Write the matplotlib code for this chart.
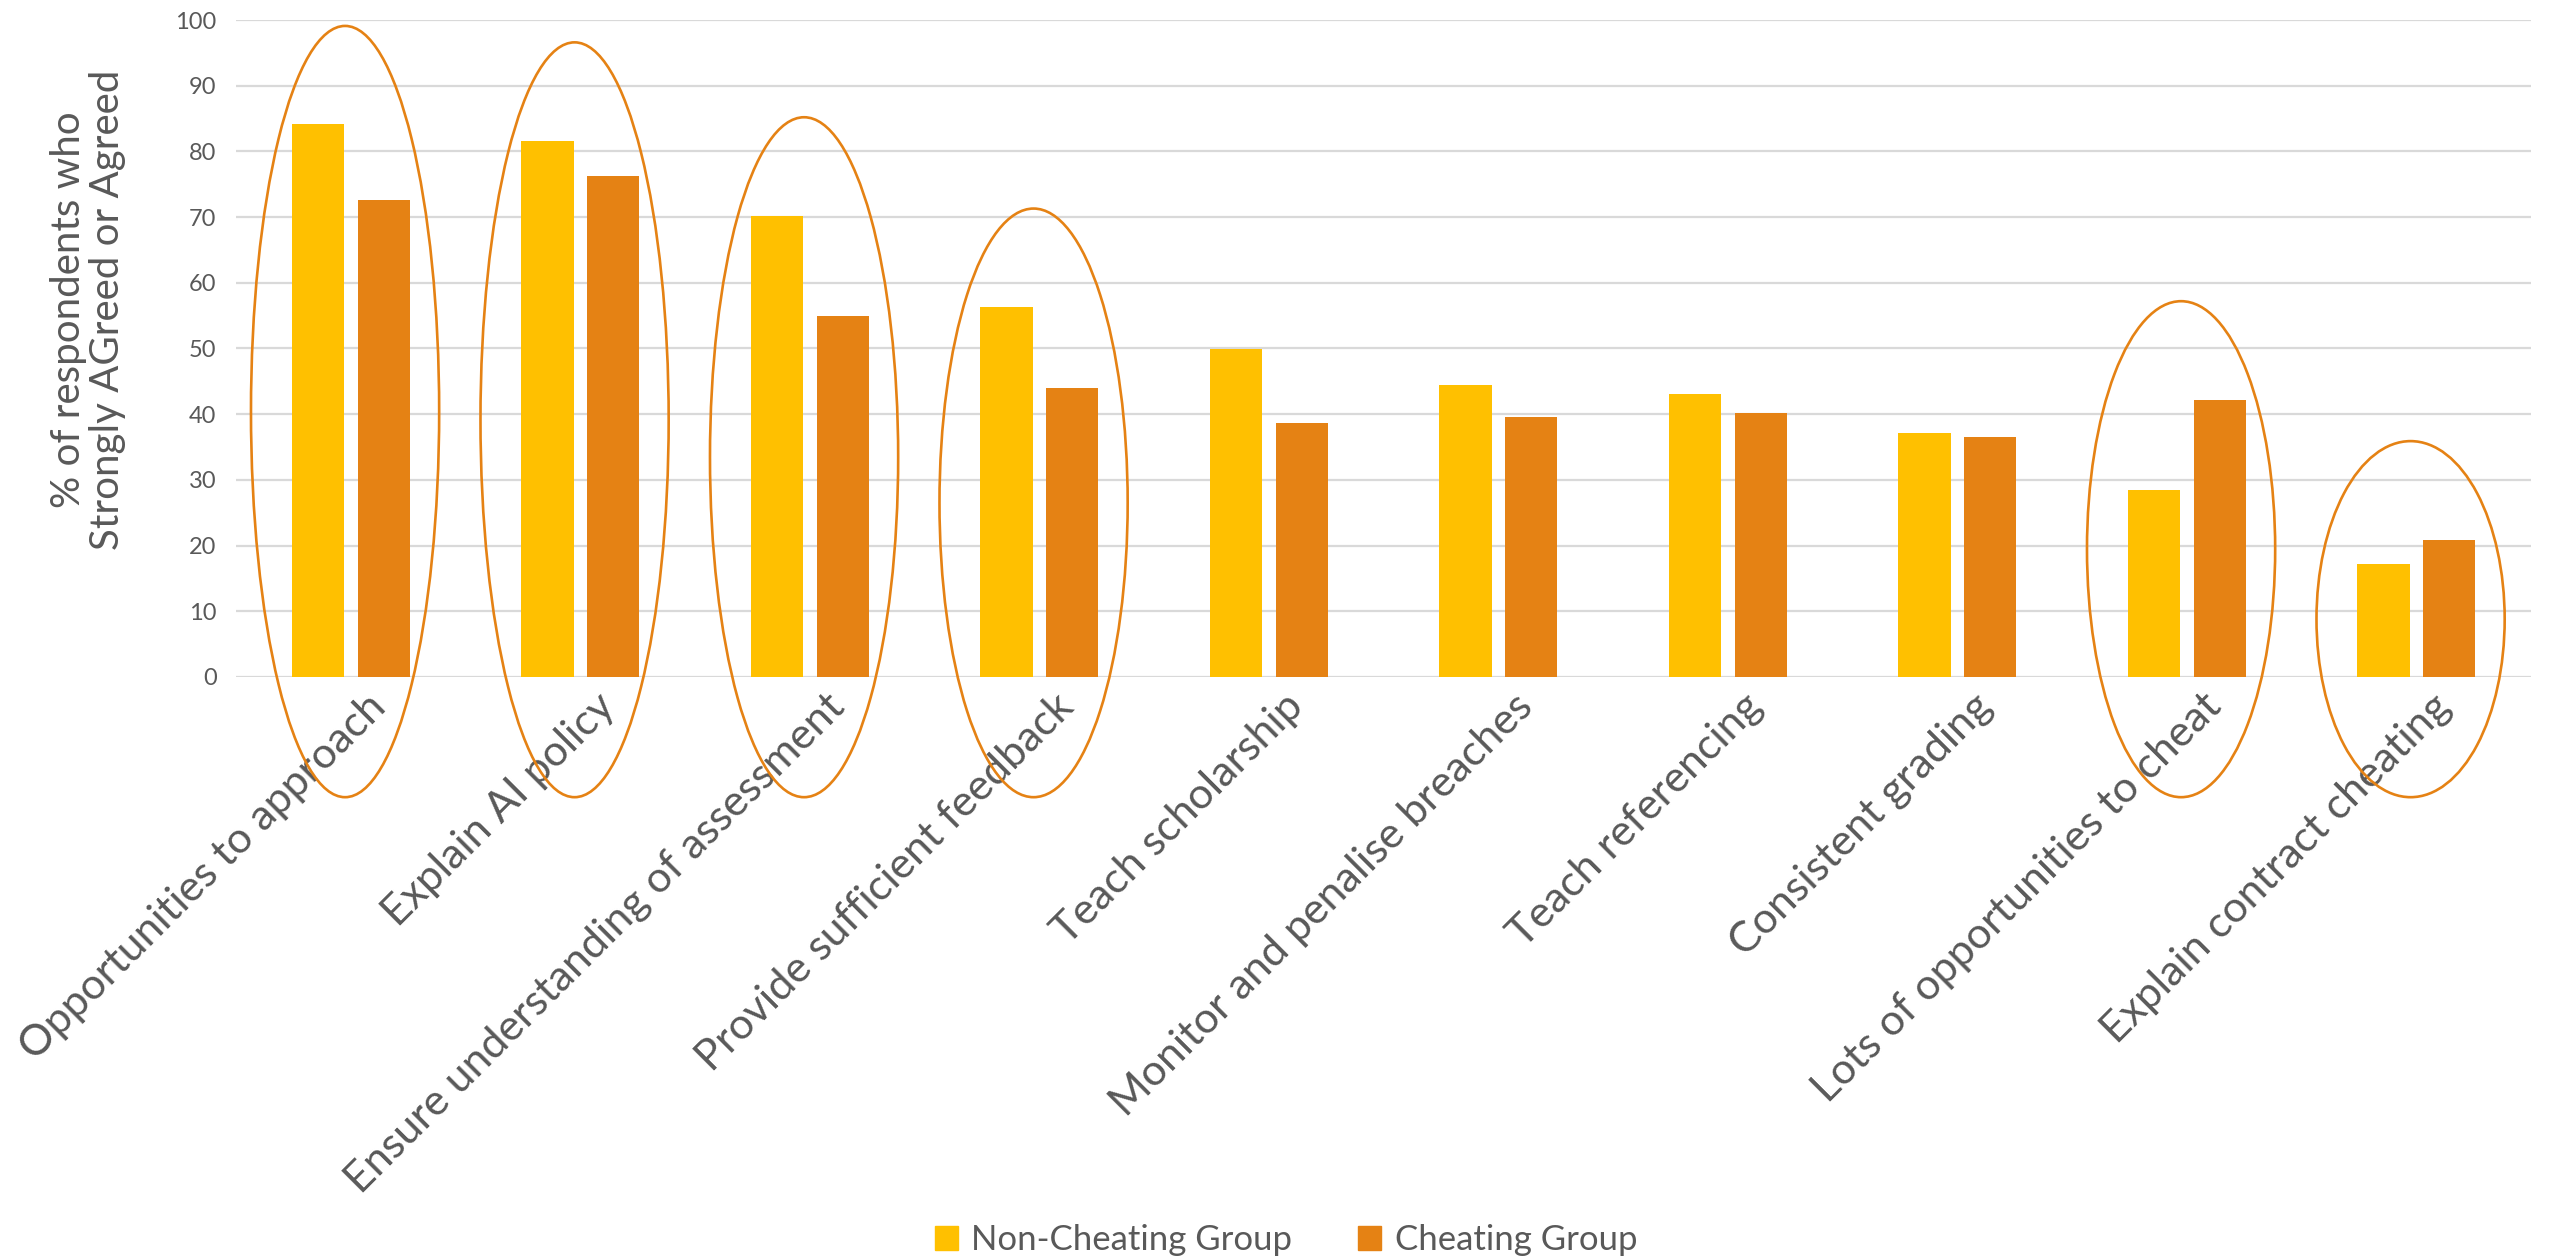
import numpy as np
import matplotlib.pyplot as plt
from matplotlib.patches import Ellipse, Patch
from matplotlib.transforms import ScaledTranslation

categories = [
    "Opportunities to approach",
    "Explain AI policy",
    "Ensure understanding of assessment",
    "Provide sufficient feedback",
    "Teach scholarship",
    "Monitor and penalise breaches",
    "Teach referencing",
    "Consistent grading",
    "Lots of opportunities to cheat",
    "Explain contract cheating",
]
non_cheating = [84.1, 81.6, 70.2, 56.3, 49.9, 44.5, 43.0, 37.1, 28.5, 17.2]
cheating = [72.6, 76.2, 54.9, 44.0, 38.7, 39.6, 40.2, 36.5, 42.2, 20.9]
highlighted = [0, 1, 2, 3, 8, 9]

YELLOW = "#FFC000"
ORANGE = "#E58214"
TEXT = "#595959"

plt.rcParams['font.family'] = ['Lato', 'DejaVu Sans']

fig = plt.figure(figsize=(25.52, 12.59), dpi=100)
ax = fig.add_axes([0.0925, 0.4623, 0.8993, 0.5218])

x = np.arange(len(categories))
bw = 0.227
off = 0.143
ax.bar(x - off, non_cheating, bw, color=YELLOW, zorder=3, label="Non-Cheating Group")
ax.bar(x + off, cheating, bw, color=ORANGE, zorder=3, label="Cheating Group")

# circle the groups of interest, reaching below the axis
bottom = -18.3
for i in highlighted:
    top = max(non_cheating[i], cheating[i]) + 15
    e = Ellipse((x[i] - 0.025, (top + bottom) / 2), 0.82, top - bottom,
                fill=False, edgecolor=ORANGE, lw=1.9, zorder=4, clip_on=False)
    ax.add_patch(e)

ax.set_xlim(-0.5, len(categories) - 0.5)
ax.set_ylim(0, 100)
ax.set_yticks(range(0, 101, 10))
ax.yaxis.grid(True, color="#D9D9D9", lw=1.6, zorder=0)
ax.set_axisbelow(True)
for s in ax.spines.values():
    s.set_visible(False)
ax.tick_params(axis='both', length=0, colors=TEXT)
ax.tick_params(axis='y', labelsize=17, pad=14)

ax.set_xticks(x)
ax.set_xticklabels(categories, rotation=45, ha='right', va='top',
                   rotation_mode='anchor', fontsize=31, color=TEXT)
ax.tick_params(axis='x', pad=18)
shift = ScaledTranslation(0.15, 0.15, fig.dpi_scale_trans)
for lab in ax.get_xticklabels():
    lab.set_transform(lab.get_transform() + shift)

fig.text(0.0345, 0.754, "% of respondents who\nStrongly AGreed or Agreed",
         rotation=90, ha='center', va='center', fontsize=29, color=TEXT,
         linespacing=1.08)

handles = [Patch(color=YELLOW, label="Non-Cheating Group"),
           Patch(color=ORANGE, label="Cheating Group")]
fig.legend(handles=handles, loc='center', bbox_to_anchor=(0.504, 0.015),
           ncol=2, frameon=False, fontsize=25, handlelength=0.65,
           handleheight=0.65, handletextpad=0.4, columnspacing=1.9,
           labelcolor=TEXT)

fig.savefig("out.png", dpi=100)
